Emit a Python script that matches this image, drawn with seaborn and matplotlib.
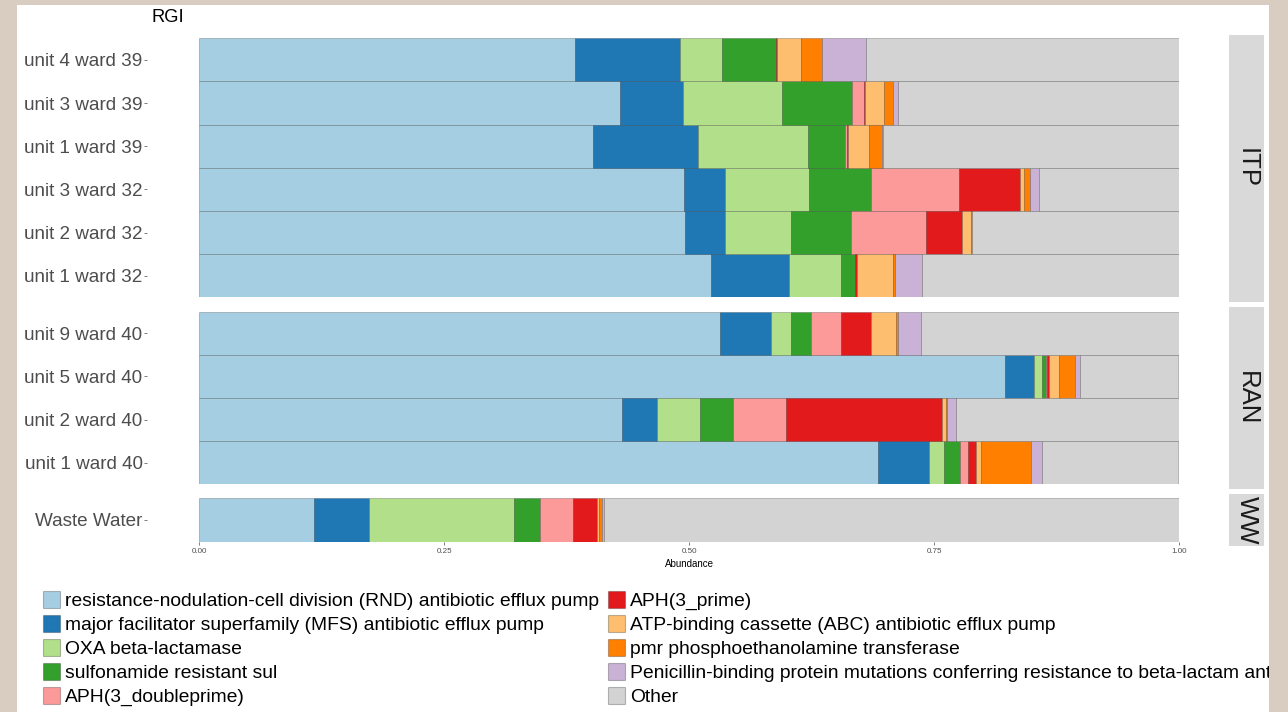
import matplotlib
matplotlib.use("Agg")
import matplotlib.pyplot as plt
from matplotlib.patches import Patch, Rectangle
import numpy as np
import pandas as pd
import seaborn as sns

# ---- data -------------------------------------------------------------
groups = ["ITP", "RAN", "WW"]
samples_itp = ["unit 4 ward 39", "unit 3 ward 39", "unit 1 ward 39",
               "unit 3 ward 32", "unit 2 ward 32", "unit 1 ward 32"]
samples_ran = ["unit 9 ward 40", "unit 5 ward 40", "unit 2 ward 40", "unit 1 ward 40"]
samples_ww = ["Waste Water"]

categories = [
    "resistance-nodulation-cell division (RND) antibiotic efflux pump",
    "major facilitator superfamily (MFS) antibiotic efflux pump",
    "OXA beta-lactamase",
    "sulfonamide resistant sul",
    "APH(3_doubleprime)",
    "APH(3_prime)",
    "ATP-binding cassette (ABC) antibiotic efflux pump",
    "pmr phosphoethanolamine transferase",
    "Penicillin-binding protein mutations conferring resistance to beta-lactam antibiotics",
    "Other",
]

# abundance per category, samples in the order ITP (6), RAN (4), WW (1)
rnd   = [0.384, 0.429, 0.402, 0.495, 0.496, 0.522, 0.531, 0.822, 0.432, 0.693, 0.117]
mfs   = [0.107, 0.065, 0.107, 0.042, 0.041, 0.080, 0.053, 0.030, 0.035, 0.052, 0.056]
oxa   = [0.043, 0.101, 0.112, 0.085, 0.067, 0.053, 0.020, 0.008, 0.044, 0.015, 0.148]
sul   = [0.055, 0.071, 0.038, 0.063, 0.061, 0.014, 0.020, 0.004, 0.034, 0.016, 0.027]
aph3pp = [0.000, 0.012, 0.002, 0.090, 0.077, 0.000, 0.031, 0.001, 0.054, 0.008, 0.034]
aph3p = [0.001, 0.001, 0.001, 0.062, 0.036, 0.002, 0.031, 0.002, 0.159, 0.009, 0.024]
abc   = [0.024, 0.020, 0.021, 0.005, 0.010, 0.037, 0.025, 0.010, 0.004, 0.005, 0.002]
pmr   = [0.022, 0.009, 0.014, 0.006, 0.001, 0.002, 0.002, 0.017, 0.001, 0.051, 0.003]
pbp   = [0.044, 0.005, 0.001, 0.009, 0.000, 0.028, 0.024, 0.005, 0.009, 0.011, 0.002]
other = [0.320, 0.287, 0.302, 0.143, 0.212, 0.262, 0.264, 0.100, 0.228, 0.139, 0.587]

x_ticks = [0.0, 0.25, 0.5, 0.75, 1.0]
x_tick_labels = ["0.00", "0.25", "0.50", "0.75", "1.00"]

series = [rnd, mfs, oxa, sul, aph3pp, aph3p, abc, pmr, pbp, other]
samples = samples_itp + samples_ran + samples_ww
sample_group = ["ITP"] * len(samples_itp) + ["RAN"] * len(samples_ran) + ["WW"] * len(samples_ww)

rows = []
for cat, vals in zip(categories, series):
    for s, g, v in zip(samples, sample_group, vals):
        rows.append({"sample": s, "group": g, "category": cat, "value": v})
df = pd.DataFrame(rows)
df["left"] = df.groupby("sample")["value"].cumsum() - df["value"]

palette = sns.color_palette("Paired", 9) + ["#d3d3d3"]
cat_colors = dict(zip(categories, palette))

# ---- styling ----------------------------------------------------------
sns.set_style("white")
plt.rcParams["font.family"] = ["Liberation Sans", "DejaVu Sans"]

W, H = 1288, 712
fig = plt.figure(figsize=(W / 100, H / 100), dpi=100, facecolor="white")


def fx(px):
    return px / W


def fy(py):
    return 1 - py / H


panel_left, panel_right = 199, 1179.3
panel_rows = {"ITP": (38.3, 297.3), "RAN": (311.7, 484.3), "WW": (498.3, 541.7)}
strip_rows = {"ITP": (34.7, 302.0), "RAN": (307.0, 488.7), "WW": (494.0, 546.0)}
strip_left, strip_right = 1229, 1264

edge = (0, 0, 0, 0.25)

for g in groups:
    top, bottom = panel_rows[g]
    ax = fig.add_axes([fx(panel_left), fy(bottom), fx(panel_right) - fx(panel_left),
                       (bottom - top) / H])
    order = [s for s, sg in zip(samples, sample_group) if sg == g]
    sub = df[df["group"] == g]
    for cat in categories:
        part = sub[(sub["category"] == cat) & (sub["value"] > 0)].copy()
        if part.empty:
            continue
        part["pos"] = part["sample"].map({s: i for i, s in enumerate(order)})
        part = part.sort_values("pos")
        sns.barplot(data=part, x="value", y="sample", order=order, orient="h",
                    color=cat_colors[cat], saturation=1, width=1, errorbar=None,
                    left=part["left"].to_numpy(), edgecolor=edge, linewidth=0.6,
                    ax=ax)
    ax.set_xlim(0, 1)
    ax.set_ylim(len(order) - 0.5, -0.5)
    ax.set_xlabel("")
    ax.set_ylabel("")
    for sp in ax.spines.values():
        sp.set_visible(False)
    # y ticks sit just right of their labels, away from the panel
    ax.spines["left"].set_position(("outward", 52 * 0.72))
    ax.spines["left"].set_visible(True)
    ax.spines["left"].set_color("none")
    ax.tick_params(axis="y", which="both", left=True, length=2.2, width=0.6,
                   color="#666666", pad=1.0, labelsize=13.6, labelcolor="#4d4d4d")
    if g == "WW":
        ax.set_xticks(x_ticks)
        ax.set_xticklabels(x_tick_labels)
        ax.tick_params(axis="x", which="both", bottom=True, length=2.2, width=0.6,
                       color="#666666", pad=2, labelsize=5.8, labelcolor="#4d4d4d")
        ax.set_xlabel("Abundance", fontsize=7, color="black", labelpad=3)
    else:
        ax.set_xticks([])

    # facet strip on the right
    s_top, s_bottom = strip_rows[g]
    sax = fig.add_axes([fx(strip_left), fy(s_bottom), fx(strip_right) - fx(strip_left),
                        (s_bottom - s_top) / H])
    sax.set_facecolor("#d9d9d9")
    sax.set_xticks([])
    sax.set_yticks([])
    for sp in sax.spines.values():
        sp.set_visible(False)
    sax.text(0.5, 0.5, g, rotation=-90, ha="center", va="center", fontsize=18.5,
             color="#1a1a1a", transform=sax.transAxes)

fig.text(fx(167.8), fy(18), "RGI", ha="center", va="center", fontsize=13.2, color="black")

handles = [Patch(facecolor=cat_colors[c], edgecolor=edge, linewidth=0.8, label=c)
           for c in categories]
fig.legend(handles=handles, loc="upper left", bbox_to_anchor=(fx(42.7), fy(590.5)),
           ncol=2, frameon=False, fontsize=13.85, borderpad=0, borderaxespad=0,
           handlelength=0.89, handleheight=0.99, handletextpad=0.26,
           labelspacing=0.26, columnspacing=0.46, labelcolor="black")

# page border around the white canvas
border = "#d9cdc1"
for (x0, y0, w, h) in [(0, 0, 17, H), (1269, 0, W - 1269, H), (0, 0, W, 5)]:
    fig.add_artist(Rectangle((fx(x0), fy(y0 + h)), w / W, h / H, transform=fig.transFigure,
                             facecolor=border, edgecolor="none", zorder=100))

fig.savefig("out.png", dpi=100)
